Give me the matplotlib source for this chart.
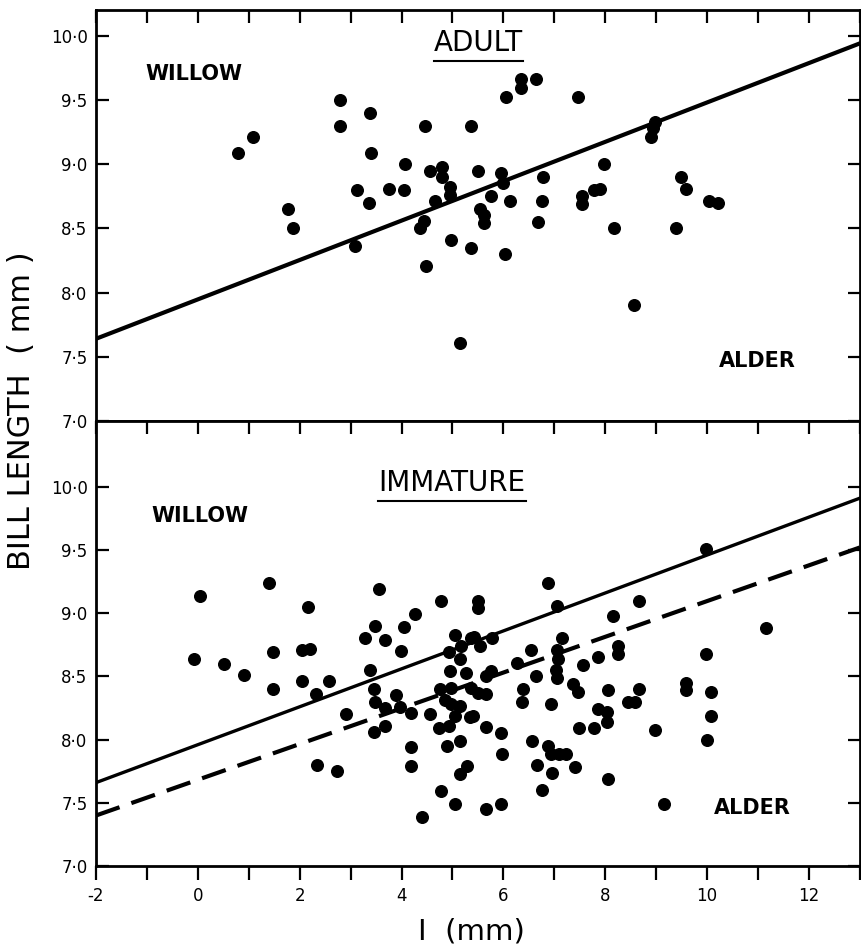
import matplotlib
matplotlib.use("Agg")
import matplotlib.pyplot as plt
from matplotlib.lines import Line2D

# adult birds
adult_x = [0.78, 1.08, 1.78, 1.86, 2.79, 2.80, 3.09, 3.13, 3.36, 3.39, 3.40, 3.76,
           4.04, 4.06, 4.47, 4.48, 4.55, 4.37, 4.44, 4.66, 4.79, 4.79, 4.95, 4.95,
           4.97, 5.37, 5.37, 5.14, 5.51, 5.55, 5.62, 5.62, 5.76, 5.96, 5.99, 6.05,
           6.13, 6.04, 6.35, 6.35, 6.64, 6.68, 6.77, 6.76, 7.46, 7.55, 7.55, 7.77,
           7.89, 7.97, 8.18, 8.56, 8.89, 8.94, 8.97, 9.39, 9.49, 9.58, 10.04, 10.22]
adult_y = [9.09, 9.21, 8.65, 8.50, 9.50, 9.30, 8.36, 8.80, 8.70, 9.40, 9.09, 8.81,
           8.80, 9.00, 9.30, 8.21, 8.95, 8.50, 8.56, 8.71, 8.98, 8.90, 8.82, 8.76,
           8.41, 9.30, 8.35, 7.61, 8.95, 8.65, 8.60, 8.54, 8.75, 8.93, 8.85, 9.52,
           8.71, 8.30, 9.66, 9.59, 9.66, 8.55, 8.90, 8.71, 9.52, 8.75, 8.69, 8.80,
           8.81, 9.00, 8.50, 7.90, 9.21, 9.28, 9.33, 8.50, 8.90, 8.81, 8.71, 8.70]

# immature birds
imm_x = [0.05, -0.07, 0.51, 0.91, 1.40, 1.48, 1.48, 2.17, 2.05, 2.21, 2.05, 2.32,
         2.57, 2.34, 2.73, 2.91, 3.29, 3.47, 3.55, 3.67, 3.39, 3.46, 3.48, 3.67,
         3.46, 3.67, 3.90, 3.97, 4.05, 3.99, 4.27, 4.18, 4.55, 4.18, 4.18, 4.77,
         5.04, 4.94, 5.15, 5.16, 5.37, 4.96, 5.26, 4.76, 4.97, 4.86, 4.97, 5.15,
         5.04, 5.35, 4.74, 4.93, 4.90, 5.15, 5.28, 5.15, 4.77, 5.05, 4.40, 5.51,
         5.51, 5.43, 5.55, 5.77, 5.37, 5.50, 5.66, 5.66, 5.75, 5.40, 5.66, 5.96,
         5.98, 5.65, 5.96, 6.27, 6.38, 6.37, 6.55, 6.64, 6.56, 6.66, 6.76, 6.87,
         7.06, 7.15, 7.06, 7.08, 7.04, 7.06, 6.94, 6.87, 6.94, 7.10, 7.22, 6.96,
         7.40, 7.36, 7.46, 7.56, 7.48, 7.77, 7.86, 8.05, 7.86, 8.04, 8.04, 8.06,
         8.16, 8.25, 8.25, 8.44, 8.59, 8.67, 8.67, 8.97, 9.16, 9.58, 9.58, 9.98,
         9.98, 10.07, 10.08, 10.00, 11.16]
imm_y = [9.14, 8.64, 8.60, 8.51, 9.24, 8.69, 8.40, 9.05, 8.71, 8.72, 8.46, 8.36,
         8.46, 7.80, 7.75, 8.20, 8.80, 8.90, 9.19, 8.79, 8.55, 8.40, 8.30, 8.25,
         8.06, 8.11, 8.35, 8.26, 8.89, 8.70, 8.99, 8.21, 8.20, 7.94, 7.79, 9.10,
         8.83, 8.69, 8.64, 8.74, 8.80, 8.54, 8.53, 8.40, 8.41, 8.31, 8.28, 8.27,
         8.19, 8.18, 8.09, 8.11, 7.95, 7.99, 7.79, 7.73, 7.59, 7.49, 7.39, 9.10,
         9.04, 8.81, 8.74, 8.80, 8.41, 8.37, 8.36, 8.50, 8.54, 8.19, 8.10, 8.05,
         7.89, 7.45, 7.49, 8.61, 8.40, 8.30, 8.71, 8.50, 7.99, 7.80, 7.60, 9.24,
         9.06, 8.80, 8.71, 8.64, 8.55, 8.49, 8.28, 7.95, 7.89, 7.89, 7.89, 7.74,
         7.78, 8.44, 8.38, 8.59, 8.09, 8.09, 8.65, 8.39, 8.24, 8.22, 8.14, 7.69,
         8.98, 8.74, 8.68, 8.30, 8.30, 8.40, 9.10, 8.08, 7.49, 8.45, 8.39, 9.51,
         8.68, 8.38, 8.19, 8.00, 8.88]

# regression lines (end points at x = -2 and x = 13)
line_x = [-2, 13]
adult_line_y = [7.64, 9.94]
imm_line_y = [7.66, 9.91]
imm_dash_y = [7.40, 9.52]

x_ticks = list(range(-2, 14))
x_labels = [str(v) if v % 2 == 0 and v <= 12 else "" for v in x_ticks]
y_ticks = [7.0, 7.5, 8.0, 8.5, 9.0, 9.5, 10.0]
y_labels = ["7\u00b70", "7\u00b75", "8\u00b70", "8\u00b75", "9\u00b70", "9\u00b75", "10\u00b70"]

plt.rcParams['font.family'] = ['DejaVu Sans']

fig = plt.figure(figsize=(8.62, 9.48), dpi=100)
ax1 = fig.add_axes([0.1113, 0.5559, 0.8863, 0.4336])
ax2 = fig.add_axes([0.1113, 0.0864, 0.8863, 0.4695])


def style(ax, ymax):
    ax.set_xlim(-2, 13)
    ax.set_ylim(7.0, ymax)
    ax.set_yticks(y_ticks)
    ax.set_yticklabels(y_labels)
    ax.tick_params(axis='y', direction='in', length=9, width=1.6, right=True,
                   labelsize=12, pad=6)
    for s in ax.spines.values():
        s.set_linewidth(2)


style(ax1, 10.2)
style(ax2, 10.52)

# top panel: inward ticks along the top edge only
ax1.set_xticks(x_ticks)
ax1.tick_params(axis='x', direction='in', length=9, width=1.6, top=True,
                bottom=False, labelbottom=False)

# bottom panel: outward labelled ticks below, inward ticks on the top edge
ax2.xaxis.remove_overlapping_locs = False
ax2.set_xticks(x_ticks)
ax2.set_xticklabels(x_labels)
ax2.set_xticks(x_ticks, minor=True)
ax2.tick_params(axis='x', which='major', direction='out', length=10, width=1.6,
                labelsize=12, pad=5, top=False, bottom=True)
ax2.tick_params(axis='x', which='minor', direction='in', length=9, width=1.6,
                top=True, bottom=False, labelbottom=False)

ax1.scatter(adult_x, adult_y, s=70, color='black', zorder=3)
ax1.plot(line_x, adult_line_y, color='black', lw=3)

ax2.scatter(imm_x, imm_y, s=70, color='black', zorder=3)
ax2.plot(line_x, imm_line_y, color='black', lw=2.4)
ax2.plot(line_x, imm_dash_y, color='black', lw=3, dashes=(6, 3))

ax1.text(-1.02, 9.70, "WILLOW", fontsize=15, fontweight='bold', va='center', ha='left')
ax1.text(10.24, 7.47, "ALDER", fontsize=15, fontweight='bold', va='center', ha='left')
ax2.text(-0.92, 9.77, "WILLOW", fontsize=15, fontweight='bold', va='center', ha='left')
ax2.text(10.14, 7.46, "ALDER", fontsize=15, fontweight='bold', va='center', ha='left')

t1 = ax1.text(5.51, 9.94, "ADULT", fontsize=20, va='center', ha='center')
t2 = ax2.text(4.99, 10.03, "IMMATURE", fontsize=20, va='center', ha='center')

fig.text(0.025, 0.567, "BILL LENGTH  ( mm )", rotation=90, fontsize=22,
         va='center', ha='center')
fig.text(0.547, 0.003, "I  (mm)", fontsize=21, va='bottom', ha='center')

# underline the panel titles
fig.canvas.draw()
for t in (t1, t2):
    bb = t.get_window_extent()
    W, H = fig.bbox.width, fig.bbox.height
    y = (bb.y0 - 4) / H
    fig.add_artist(Line2D([bb.x0 / W, bb.x1 / W], [y, y], color='black', lw=1.5))

fig.savefig("out.png", dpi=100)
